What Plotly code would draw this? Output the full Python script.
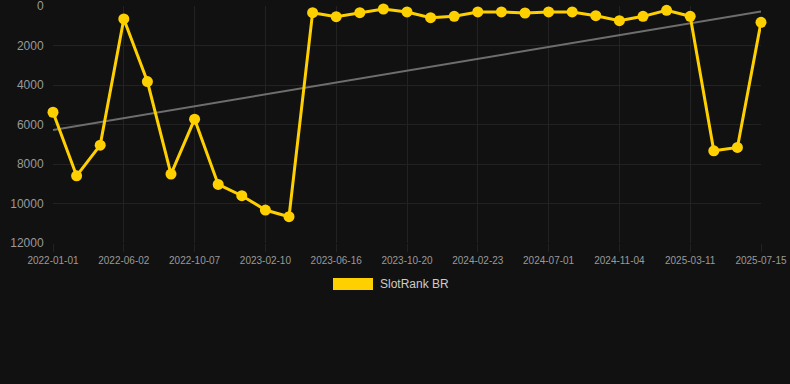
import numpy as np
import plotly.graph_objects as go

dates = [
    "2022-01-01", "2022-02-20", "2022-04-11",
    "2022-06-02", "2022-07-14", "2022-08-25",
    "2022-10-07", "2022-11-18", "2022-12-30",
    "2023-02-10", "2023-03-24", "2023-05-05",
    "2023-06-16", "2023-07-28", "2023-09-08",
    "2023-10-20", "2023-12-01", "2024-01-12",
    "2024-02-23", "2024-04-05", "2024-05-19",
    "2024-07-01", "2024-08-12", "2024-09-23",
    "2024-11-04", "2024-12-16", "2025-01-27",
    "2025-03-11", "2025-04-22", "2025-06-03",
    "2025-07-15",
]
ranks = [
    5380, 8600, 7045, 657, 3825, 8510, 5730, 9035, 9605, 10330, 10670,
    337, 539, 337, 152, 303, 590, 523, 303, 303, 354, 303, 303, 489,
    741, 523, 219, 523, 7330, 7163, 826,
]
tick_labels = dates[::3]
y_ticks = [0, 2000, 4000, 6000, 8000, 10000, 12000]
series_name = "SlotRank BR"

idx = np.arange(len(ranks))
slope, intercept = np.polyfit(idx, ranks, 1)
trend = slope * idx + intercept

BG = "#111111"
GRID = "#222222"
YELLOW = "#FFD000"
TICK = "#9a9a9a"

fig = go.Figure()
fig.add_trace(go.Scatter(
    x=dates, y=trend, mode="lines",
    line=dict(color="#6e6e6e", width=2),
    showlegend=False, hoverinfo="skip",
))
fig.add_trace(go.Scatter(
    x=dates, y=ranks, mode="lines+markers", name=series_name,
    line=dict(color=YELLOW, width=3),
    marker=dict(color=YELLOW, size=11),
    showlegend=False, cliponaxis=False,
))

fig.update_layout(
    width=790, height=384,
    margin=dict(l=53, r=29, t=6, b=141),
    paper_bgcolor=BG, plot_bgcolor=BG,
    font=dict(family="Liberation Sans, Arial, sans-serif", color=TICK),
    showlegend=False,
)
fig.update_xaxes(
    type="category", categoryorder="array", categoryarray=dates,
    range=[0, len(dates) - 1],
    tickvals=tick_labels, ticktext=tick_labels,
    tickfont=dict(size=10, color=TICK),
    showgrid=True, gridcolor=GRID, gridwidth=1,
    ticks="outside", ticklen=8, tickcolor=GRID,
    showline=False, zeroline=False,
    ticklabeloverflow="allow", automargin=False,
)
fig.update_yaxes(
    range=[12000, 0], tickvals=y_ticks, ticktext=[str(v) for v in y_ticks],
    tickfont=dict(size=12, color=TICK),
    showgrid=True, gridcolor=GRID, gridwidth=1,
    ticks="outside", ticklen=6, tickcolor=BG,
    showline=False, zeroline=False,
    ticklabeloverflow="allow", automargin=False,
)

# legend swatch + label (Chart.js style box)
fig.add_shape(type="rect", xref="paper", yref="paper",
              x0=(333 - 53) / 708, x1=(373 - 53) / 708,
              y0=(243 - 278) / 237, y1=(243 - 290) / 237,
              fillcolor=YELLOW, line=dict(width=0))
fig.add_annotation(xref="paper", yref="paper",
                   x=(378 - 53) / 708, y=(243 - 284) / 237,
                   xanchor="left", yanchor="middle",
                   text=series_name, showarrow=False,
                   font=dict(size=12, color="#cccccc"))

fig.write_html(
    "out.html",
    config={"displayModeBar": False},
    post_script="document.body.style.margin='0';document.body.style.background='#111111';",
)
